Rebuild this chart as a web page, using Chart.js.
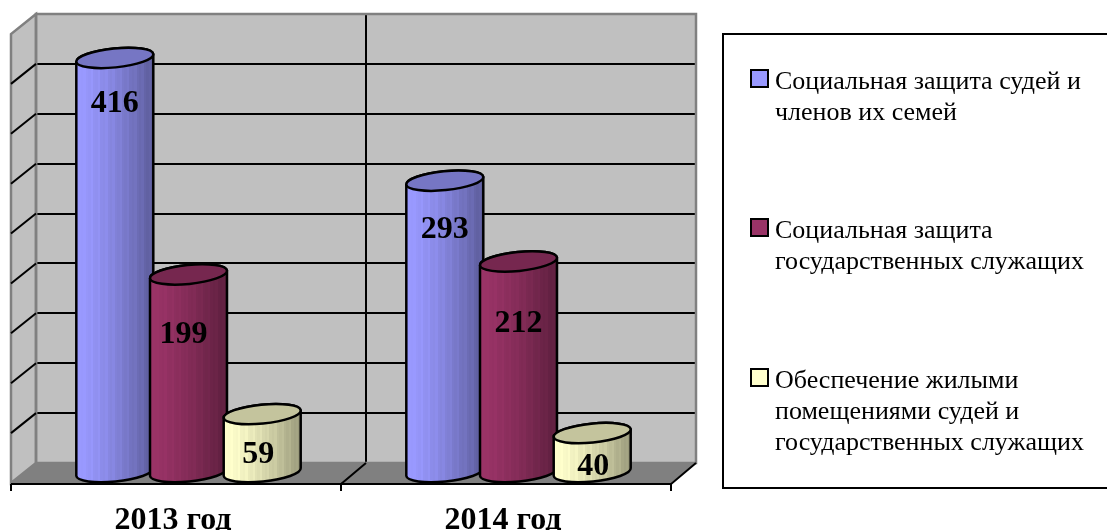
<!DOCTYPE html>
<html lang="ru">
<head>
<meta charset="utf-8">
<title>Chart</title>
<script src="https://cdn.jsdelivr.net/npm/chart.js@4"></script>
<style>
  html, body { margin: 0; padding: 0; background: #fff; overflow: hidden; }
  #wrap { position: relative; width: 1107px; height: 530px; }
  #legendbox { position: absolute; left: 722px; top: 33px; width: 400px; height: 452px; border: 2px solid #000; box-sizing: content-box; }
  .item { position: absolute; left: 51px; font: 26px/31px "Liberation Serif", serif; color: #000; white-space: nowrap; }
  .swatch { position: absolute; left: -25px; top: 4px; width: 15px; height: 15px; border: 2px solid #000; }
</style>
</head>
<body>
<div id="wrap">
  <canvas id="chart" width="1107" height="530"></canvas>
  <div id="legendbox"></div>
</div>
<script>
var categories = ['2013 год', '2014 год'];
var seriesNames = [
    ['Социальная защита судей и', 'членов их семей'],
    ['Социальная защита', 'государственных служащих'],
    ['Обеспечение жилыми', 'помещениями судей и', 'государственных служащих']
];
var judges = [416, 293];
var civil = [199, 212];
var housing = [59, 40];
var seriesColors = [[153, 153, 255], [153, 51, 102], [255, 255, 204]];
var legendTops = [30, 179, 329];    // top of each legend item inside the box

// Hand placed value labels, relative to the bar centre x and the bar top y
var labelNudge = [
    [[0, 46], [0, 49]],
    [[-5, 60], [0, 62]],
    [[-4, 41], [1, 34]]
];

// The bars stand half way into the floor, so they sit off the back wall plane
var depthX = 25;
var depthY = 20;
var tilt = -0.1;

function shade(c, f) {
    return `rgb(${Math.round(c[0]*f)},${Math.round(c[1]*f)},${Math.round(c[2]*f)})`;
}

/**
 * Draws one cylinder from the position of a bar element.
 */
function drawCylinder(ctx, el, color) {
    var cx = el.x - depthX/2;
    var top = el.y + depthY/2;
    var base = el.base + depthY/2;
    var a = el.width/2;
    var b = 9.5;
    var left = cx - a;

    // Banded side, light on the left and dark on the right
    var grad = ctx.createLinearGradient(left, 0, left + a*2, 0);
    var bands = 32;
    for(let i = 0; i < bands; i++) {
        let f = 1 - 0.4*Math.pow(i/(bands-1), 1.4);
        if(i % 3 == 0) f = Math.min(1, f + 0.03);
        grad.addColorStop(i/bands, shade(color, f));
        grad.addColorStop((i+1)/bands, shade(color, f));
    }

    ctx.save();
    ctx.lineWidth = 2.5;
    ctx.strokeStyle = '#000';
    ctx.fillStyle = grad;
    ctx.beginPath();
    ctx.ellipse(cx, base, a, b, tilt, 0, Math.PI, false);
    ctx.ellipse(cx, top, a, b, tilt, Math.PI, Math.PI*2, false);
    ctx.closePath();
    ctx.fill();
    ctx.stroke();

    ctx.fillStyle = shade(color, 0.77);
    ctx.beginPath();
    ctx.ellipse(cx, top, a, b, tilt, 0, Math.PI*2);
    ctx.fill();
    ctx.stroke();
    ctx.restore();
}

function line(ctx, x1, y1, x2, y2) {
    ctx.beginPath();
    ctx.moveTo(x1, y1);
    ctx.lineTo(x2, y2);
    ctx.stroke();
}

function poly(ctx, pts) {
    ctx.beginPath();
    ctx.moveTo(pts[0][0], pts[0][1]);
    for(let i = 1; i < pts.length; i++) ctx.lineTo(pts[i][0], pts[i][1]);
    ctx.closePath();
}

// Walls and floor of the fake 3D box, plus the cylinders in place of the flat bars
var boxPlugin = {
    id: 'box',
    beforeDraw(chart) {
        var ctx = chart.ctx, c = chart.chartArea;
        ctx.save();
        ctx.fillStyle = '#c0c0c0';
        ctx.fillRect(c.left, c.top, c.right - c.left, c.bottom - c.top);
        poly(ctx, [[c.left, c.top], [c.left - depthX, c.top + depthY], [c.left - depthX, c.bottom + depthY], [c.left, c.bottom]]);
        ctx.fill();
        ctx.restore();
    },
    beforeDatasetsDraw(chart) {
        var ctx = chart.ctx, c = chart.chartArea, y = chart.scales.y;
        ctx.save();
        // floor
        ctx.fillStyle = '#808080';
        poly(ctx, [[c.left, c.bottom], [c.right, c.bottom], [c.right - depthX, c.bottom + depthY], [c.left - depthX, c.bottom + depthY]]);
        ctx.fill();
        // wall outlines
        ctx.strokeStyle = '#808080';
        ctx.lineWidth = 2.5;
        poly(ctx, [[c.left, c.top], [c.right, c.top], [c.right, c.bottom], [c.left, c.bottom]]);
        ctx.stroke();
        poly(ctx, [[c.left, c.top], [c.left - depthX, c.top + depthY], [c.left - depthX, c.bottom + depthY], [c.left, c.bottom]]);
        ctx.stroke();
        // grid carried across the left wall
        ctx.strokeStyle = '#000';
        ctx.lineWidth = 2;
        y.ticks.forEach(function(t) {
            if(t.value == 0 || t.value == y.max) return;
            let py = y.getPixelForValue(t.value);
            line(ctx, c.left, py, c.left - depthX, py + depthY);
        });
        // front edge, ticks and floor lines
        var frontY = c.bottom + depthY + 1;
        line(ctx, c.left - depthX, frontY, c.right - depthX, frontY);
        var mid = (c.left + c.right)/2;
        [c.left, mid, c.right].forEach(function(px) {
            line(ctx, px - depthX, frontY, px - depthX, frontY + 7);
            if(px != c.left) line(ctx, px, c.bottom, px - depthX, frontY);
        });
        ctx.restore();

        // Cylinders go first to last so the later ones overlap the earlier ones
        chart.data.datasets.forEach(function(ds, i) {
            chart.getDatasetMeta(i).data.forEach(function(el) {
                drawCylinder(ctx, el, seriesColors[i]);
            });
        });
    },
    beforeDatasetDraw() {
        return false;   // the flat bars are replaced by the cylinders
    },
    afterDatasetsDraw(chart) {
        var ctx = chart.ctx;
        ctx.save();
        ctx.font = 'bold 32px "Liberation Serif", serif';
        ctx.textAlign = 'center';
        ctx.textBaseline = 'middle';
        ctx.fillStyle = '#000';
        chart.data.datasets.forEach(function(ds, i) {
            chart.getDatasetMeta(i).data.forEach(function(el, j) {
                let n = labelNudge[i][j];
                ctx.fillText(String(ds.data[j]), el.x - depthX/2 + n[0], el.y + depthY/2 + n[1]);
            });
        });
        ctx.restore();
    }
};

function makeDataset(i, values) {
    return {
        label: seriesNames[i].join(' '),
        data: values,
        backgroundColor: shade(seriesColors[i], 1),
        categoryPercentage: 0.67,
        barPercentage: 1.05
    };
}

new Chart(document.getElementById('chart'), {
    type: 'bar',
    data: {
        labels: categories,
        datasets: [makeDataset(0, judges), makeDataset(1, civil), makeDataset(2, housing)]
    },
    options: {
        responsive: false,
        animation: false,
        layout: { padding: { left: 36, right: 411, top: 14, bottom: 0 } },
        plugins: { legend: { display: false }, tooltip: { enabled: false } },
        scales: {
            x: {
                border: { display: false },
                grid: {
                    drawTicks: false,
                    lineWidth: 2,
                    color: function(c) { return c.index == 1 ? '#000' : 'rgba(0,0,0,0)'; }
                },
                ticks: {
                    padding: 39,
                    labelOffset: -28,
                    color: '#000',
                    font: { family: '"Liberation Serif", serif', size: 32, weight: 'bold' }
                },
                afterFit: function(scale) { scale.height = 67; }
            },
            y: {
                min: 0,
                max: 450,
                border: { display: false },
                grid: {
                    drawTicks: false,
                    lineWidth: 2,
                    color: function(c) { return (c.tick.value == 0 || c.tick.value == 450) ? 'rgba(0,0,0,0)' : '#000'; }
                },
                ticks: { stepSize: 50, display: false },
                afterFit: function(scale) { scale.width = 0; }
            }
        }
    },
    plugins: [boxPlugin]
});

// Legend with the same line breaks as the original
var box = document.getElementById('legendbox');
seriesNames.forEach(function(lines, i) {
    var item = document.createElement('div');
    item.className = 'item';
    item.style.top = legendTops[i] + 'px';
    item.innerHTML = `<span class="swatch" style="background:${shade(seriesColors[i], 1)}"></span>` + lines.join('<br>');
    box.appendChild(item);
});
</script>
</body>
</html>
